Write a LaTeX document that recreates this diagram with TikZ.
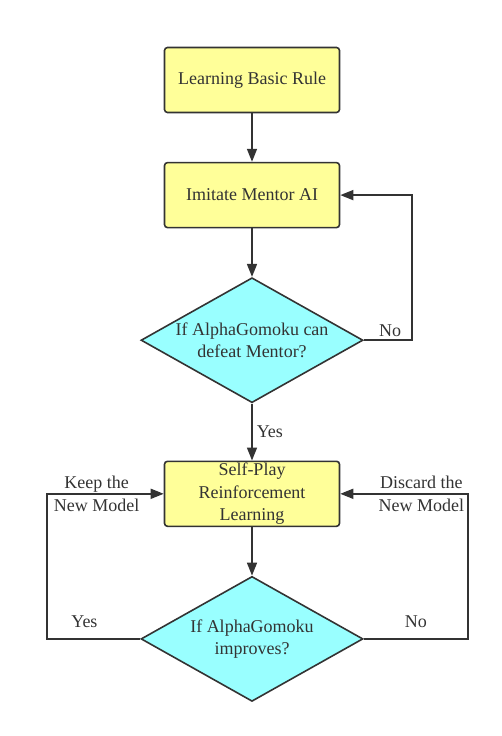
\documentclass[tikz,border=0pt]{standalone}
\usepackage{fontspec}
\setmainfont{Liberation Serif}
\usepackage{xcolor}
\usetikzlibrary{shapes.geometric,arrows.meta,positioning}

\definecolor{boxyellow}{HTML}{FFFF99}
\definecolor{diacyan}{HTML}{99FFFF}
\definecolor{linegray}{HTML}{333333}

\tikzset{
  stepbox/.style={rectangle, draw=linegray, line width=1.6pt, rounded corners=3pt, fill=boxyellow,
    minimum width=175pt, minimum height=65pt, inner sep=0pt, align=center, text=linegray},
  decision/.style={diamond, draw=linegray, line width=1.6pt, fill=diacyan, aspect=1.776,
    minimum width=222pt, minimum height=125pt, inner sep=-4pt, align=center, text=linegray},
  flow/.style={draw=linegray, line width=1.6pt, -{Triangle[length=13pt,width=10pt]}},
  lbl/.style={text=linegray, align=center, inner sep=1pt}
}

\begin{document}
\begin{tikzpicture}[font=\fontsize{18}{22.5}\selectfont, node distance=48.5pt]

    \useasboundingbox (0,0) rectangle (502pt,-736pt);

    % Nodes
    \node[stepbox] (rule) at (252pt,-80pt) {Learning Basic Rule};
    \node[stepbox, below=of rule] (mentor) {Imitate Mentor AI};
    \node[decision, below=of mentor] (defeat) {If AlphaGomoku can\\defeat Mentor?};
    \node[stepbox, below=57pt of defeat] (selfplay) {Self-Play\\Reinforcement\\Learning};
    \node[decision, below=of selfplay] (improve) {If AlphaGomoku\\improves?};

    % Arrows
    \draw[flow] (rule) -- (mentor);
    \draw[flow] (mentor) -- (defeat);
    \draw[flow] (defeat) -- node[lbl, right=3pt] {Yes} (selfplay);
    \draw[flow] (selfplay) -- (improve);
    \draw[flow] (defeat.east) -- node[lbl, above=2pt, pos=0.55] {No} ++(48pt,0) |- (mentor.east);

    % Loops round the self-play step
    \draw[flow] (improve.west) -- node[lbl, above=9pt, pos=0.6] {Yes} ++(-93pt,0) |- (selfplay.west);
    \draw[flow] (improve.east) -- node[lbl, above=9pt, pos=0.5] {No} ++(104pt,0) |- (selfplay.east);
    \node[lbl] (keep) at ([xshift=-67pt,yshift=0pt]selfplay.west) {Keep the\\New Model};
    \node[lbl] (discard) at ([xshift=81pt,yshift=0pt]selfplay.east) {Discard the\\New Model};
  \end{tikzpicture}
\end{document}
